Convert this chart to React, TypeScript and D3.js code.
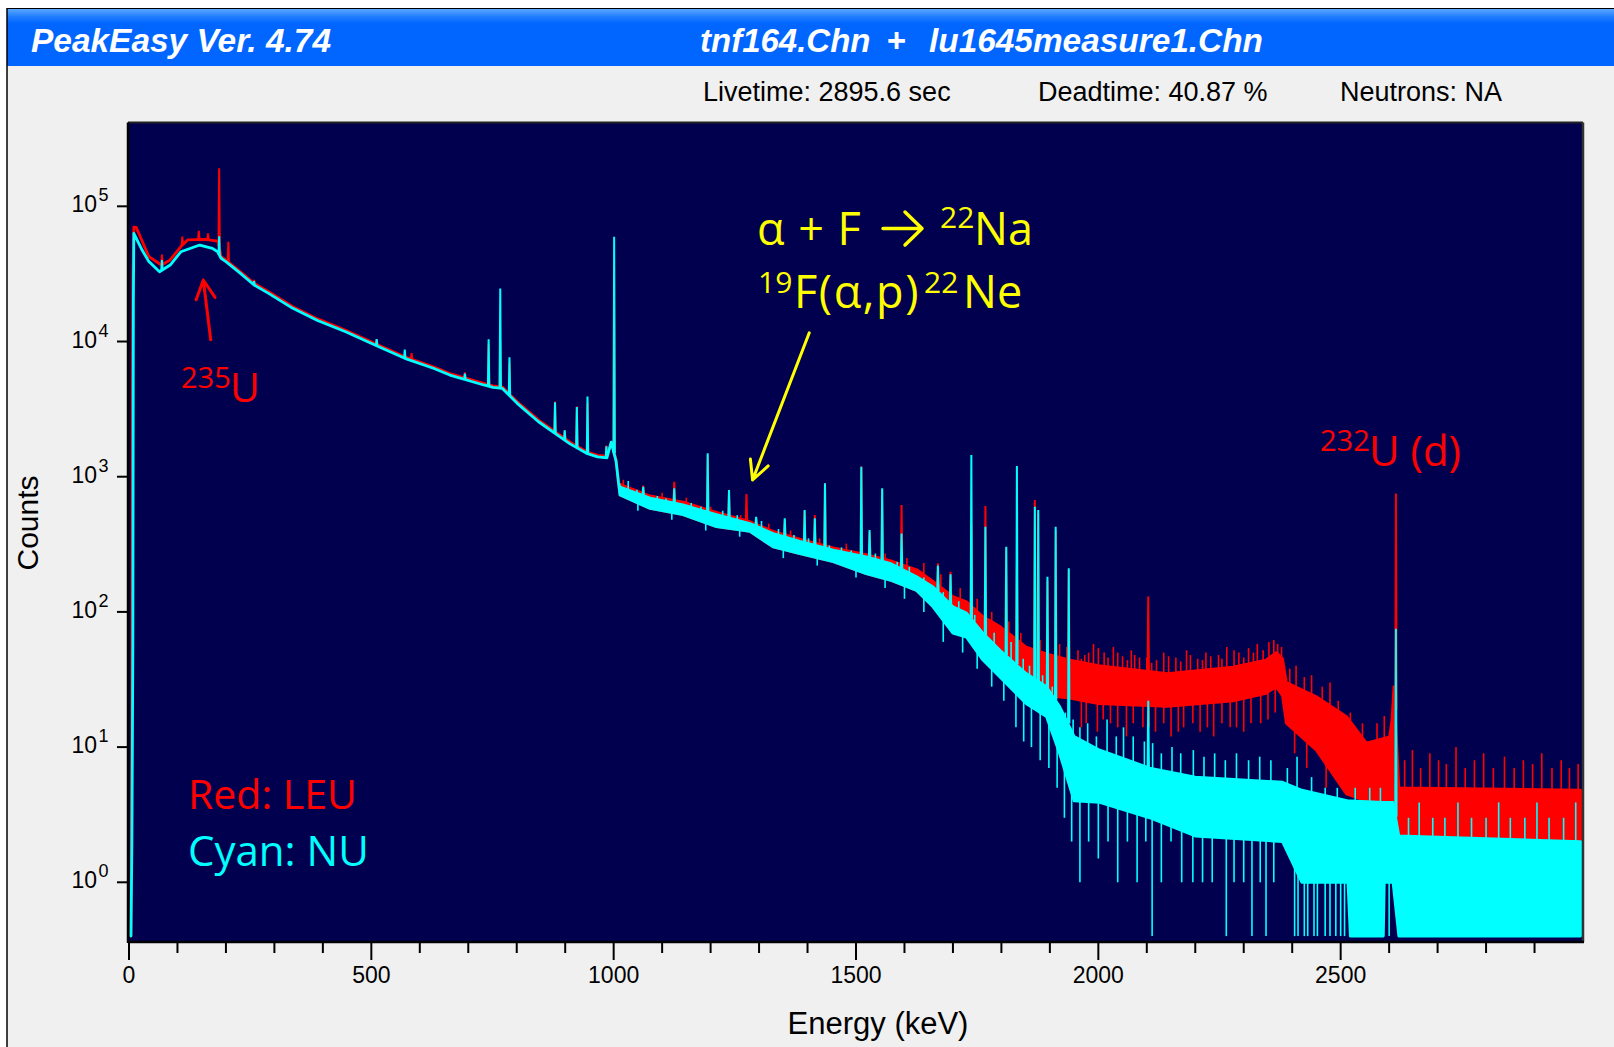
import * as d3 from "d3";

// spectrum rows: [energy keV, upper counts, lower counts (optional, band)]
type Row = [number, number, number?];

const RED_CONT: Row[] = [
  [4, 0.4], [5, 3], [6, 20], [7, 4200], [8, 30000], [10, 70000], [15, 69700],
  [41, 42400], [67, 36800], [85, 40100], [107, 50400], [121, 56400], [157, 57000],
  [179, 55600], [184, 55000], [190, 42400], [200, 40000], [230, 32800], [258, 27000],
  [288, 23400], [338, 18100], [389, 14700], [447, 12100], [512, 9500], [569, 7700],
  [628, 6500], [662, 5800], [732, 4900], [751, 4700], [770, 4620], [801, 3580],
  [845, 2620], [879, 2150], [910, 1800], [946, 1520], [967, 1440], [986, 1420],
  [995, 1800], [1005, 1330], [1010, 900],
  [1013, 880, 733], [1075, 720, 583], [1143, 650, 524], [1212, 545, 427],
  [1281, 465, 394], [1329, 395, 303], [1384, 345, 270], [1453, 298, 235],
  [1521, 265, 192], [1570, 240, 172], [1625, 205, 144], [1659, 168, 109],
  [1700, 130, 75], [1728, 119, 70], [1762, 92, 50], [1797, 78, 40], [1851, 55, 28],
  [1893, 49, 24], [1941, 44, 23], [2000, 40, 21], [2143, 35, 20], [2278, 39, 22],
  [2346, 44, 25], [2367, 50, 28], [2380, 45, 24], [2388, 30, 15], [2450, 23.6, 9.5],
  [2512, 16.8, 4.5], [2553, 10.7, 4], [2601, 11.9, 4], [2606, 16, 4], [2610, 28, 4],
  [2620, 5, 2], [2995, 4.8, 2],
];

const CYAN_CONT: Row[] = [
  [4, 0.4], [6, 2], [8, 60], [9, 20000], [10, 63000], [27, 47500], [41, 39000],
  [63, 32800], [85, 36800], [107, 46100], [146, 51700], [172, 48900], [183, 46100],
  [190, 41300], [200, 39000], [230, 31900], [258, 26200], [288, 22700], [338, 17600],
  [389, 14300], [447, 11800], [512, 9270], [569, 7510], [628, 6340], [662, 5650],
  [732, 4770], [751, 4580], [770, 4510], [801, 3490], [845, 2550], [879, 2095],
  [910, 1750], [946, 1480], [967, 1400], [986, 1380], [995, 1800], [1005, 1300],
  [1010, 900],
  [1013, 840, 733], [1075, 695, 583], [1143, 618, 524], [1212, 524, 427],
  [1281, 450, 394], [1329, 380, 303], [1384, 332, 270], [1453, 287, 235],
  [1521, 255, 192], [1570, 229, 172], [1625, 182, 144], [1659, 153, 109],
  [1700, 109, 69.5], [1728, 98, 65], [1762, 69.5, 44], [1797, 52, 33], [1851, 35, 21],
  [1893, 28, 16.8], [1920, 20, 9], [1950, 12, 4], [2003, 9.5, 3.9], [2106, 7, 3],
  [2200, 6, 2.2], [2380, 5.5, 2], [2420, 4.8, 1], [2515, 4, 1], [2520, 4, 0.4],
  [2588, 3.9, 0.4], [2590, 3.9, 1], [2608, 3.9, 1], [2620, 2.2, 0.4], [2995, 2, 0.4],
];

// photopeaks: energy, top in red (LEU), top in cyan (NU); 0 = no peak
const PEAK_E = [68, 110, 144, 163, 186, 205, 258, 511, 569, 583, 693, 742, 766, 785, 879, 899, 924, 946, 985, 1001, 1061, 1125, 1194, 1238, 1274, 1294, 1353, 1394, 1415, 1436, 1511, 1528, 1554, 1594, 1669, 1695, 1738, 1767, 1810, 1832, 1869, 1876, 1895, 1912, 1939, 2103, 2614];
const PEAK_RED = [44000, 59800, 66000, 63000, 191000, 54700, 28500, 10400, 0, 8200, 5900, 9500, 10000, 7000, 3600, 2200, 3300, 3500, 1700, 36800, 860, 919, 1450, 780, 745, 480, 480, 560, 520, 894, 1190, 390, 800, 618, 229, 198, 450, 606, 300, 222, 673, 540, 170, 400, 205, 130, 750];
const PEAK_CYAN = [40000, 0, 0, 0, 60000, 0, 28000, 10400, 8700, 0, 5800, 10400, 24700, 7640, 3550, 2200, 3280, 3920, 1680, 59600, 840, 820, 1490, 798, 0, 505, 492, 567, 492, 894, 1186, 403, 820, 380, 220, 190, 1446, 427, 303, 1200, 600, 567, 182, 427, 210, 22, 75];

// single-channel excursions above / below the continuum: [energy, counts]
const RED_SPIKES = [[1020, 950], [1040, 820], [1100, 760], [1150, 700], [1200, 600], [1262, 520], [1320, 450], [1365, 400], [1425, 350], [1480, 320], [1530, 300], [1560, 270], [1605, 250], [1640, 230], [1675, 190], [1715, 150], [1750, 125], [1780, 100], [1815, 85], [1840, 70], [1880, 62], [1920, 58], [1935, 55], [1958, 52], [1965, 45], [1972, 48], [1980, 50], [1990, 58], [2000, 54], [2012, 50], [2020, 46], [2031, 55], [2040, 50], [2050, 47], [2060, 44], [2068, 52], [2075, 48], [2085, 46], [2100, 46], [2110, 42], [2120, 44], [2135, 50], [2145, 47], [2160, 46], [2170, 43], [2182, 52], [2190, 48], [2205, 45], [2215, 44], [2222, 50], [2232, 47], [2248, 48], [2255, 45], [2265, 55], [2280, 52], [2290, 50], [2300, 46], [2310, 54], [2320, 50], [2328, 58], [2340, 52], [2352, 60], [2362, 62], [2370, 58], [2378, 55], [2395, 38], [2408, 40], [2425, 33], [2440, 34], [2462, 28], [2478, 30], [2495, 22], [2520, 18], [2545, 15], [2575, 15], [2590, 17], [2632, 8], [2648, 9.5], [2665, 7], [2684, 9], [2702, 8], [2718, 7.5], [2738, 10], [2757, 7], [2776, 8], [2795, 9], [2815, 7], [2838, 8.5], [2858, 7], [2877, 8], [2896, 7.5], [2915, 9], [2936, 7], [2955, 8], [2972, 7], [2990, 7.5]];
const RED_DROPS = [[1965, 14], [1975, 15], [1998, 13], [2010, 16], [2025, 15], [2040, 14], [2058, 12], [2072, 15], [2092, 14], [2105, 14], [2118, 13], [2135, 15], [2150, 12], [2165, 13], [2176, 14], [2195, 15], [2210, 13], [2225, 14], [2238, 12], [2255, 15], [2272, 14], [2285, 14], [2300, 13], [2315, 15], [2335, 15], [2350, 16], [2365, 18], [2405, 9], [2430, 7], [2470, 5], [2988, 1]];
const CYAN_SPIKES = [[1030, 930], [1048, 800], [1090, 720], [1108, 690], [1160, 640], [1180, 600], [1225, 560], [1255, 520], [1305, 470], [1340, 410], [1372, 370], [1402, 350], [1445, 310], [1470, 300], [1490, 285], [1540, 270], [1585, 235], [1610, 215], [1640, 180], [1680, 140], [1712, 120], [1745, 95], [1785, 70], [1820, 60], [1845, 45], [1858, 40], [1885, 34], [1905, 28], [1932, 18], [1948, 16], [1962, 14], [1978, 15], [1996, 12], [2018, 16], [2037, 12], [2052, 14], [2072, 12], [2095, 11], [2112, 10.7], [2130, 9], [2152, 10], [2170, 9], [2196, 9.5], [2218, 8.5], [2240, 9], [2262, 8], [2285, 9], [2310, 8], [2333, 8.5], [2356, 8], [2390, 7], [2410, 8.5], [2440, 6], [2468, 5], [2493, 5], [2530, 5], [2560, 5], [2582, 5], [2640, 3], [2662, 3.9], [2690, 3], [2715, 3], [2742, 3.9], [2770, 3], [2800, 3], [2826, 3.9], [2850, 3], [2880, 3], [2905, 3.9], [2930, 3], [2960, 3], [2985, 3.9]];
const CYAN_DROPS = [[1050, 560], [1120, 480], [1190, 400], [1260, 360], [1350, 250], [1420, 220], [1500, 180], [1560, 150], [1600, 125], [1640, 100], [1680, 60], [1720, 50], [1750, 38], [1780, 28], [1805, 22], [1830, 14], [1846, 11], [1862, 10], [1880, 8], [1898, 7], [1915, 5], [1930, 3], [1945, 2], [1962, 1], [1980, 2], [2000, 1.5], [2020, 2], [2040, 1], [2060, 2], [2080, 1], [2098, 2], [2111, 0.4], [2130, 1], [2150, 2], [2172, 1], [2195, 1], [2215, 1], [2235, 1], [2264, 0.4], [2280, 1], [2300, 1], [2317, 0.4], [2334, 1], [2346, 0.4], [2362, 1], [2405, 0.4], [2412, 0.4], [2425, 0.4], [2432, 0.4], [2445, 0.4], [2452, 0.4], [2468, 0.4], [2478, 0.4], [2490, 0.4], [2500, 0.4], [2508, 0.4], [2600, 0.4]];

const X_LABELS = [0, 500, 1000, 1500, 2000, 2500];
const Y_EXPONENTS = [0, 1, 2, 3, 4, 5];

// annotation arrows in data space: [energy, counts] tail -> tip
const U235_ARROW = [[168.6, 10300], [153.3, 28500]];
const NA22_ARROW = [[1403.6, 11600], [1286.6, 946]];

const UI = "'Liberation Sans', Arial, sans-serif";
const ANN = "'Open Sans', 'Noto Sans', sans-serif";
const NAVY = "#00004f";
const RED = "#ff0000";
const CYAN = "#00ffff";
const YELLOW = "#ffff00";

export default function App() {
  const W = 1614;
  const H = 1047;
  const plot = { left: 128, right: 1583, top: 122.5, bottom: 942 };

  const x = d3.scaleLinear().domain([0, 3000]).range([129, 1583]);
  const y = d3
    .scaleLog()
    .domain([Math.pow(10, -0.4416), Math.pow(10, 5.62)])
    .range([942, 122.5]);

  const band = d3
    .area<Row>()
    .x((d) => x(d[0]))
    .y0((d) => y(d[2] ?? d[1]))
    .y1((d) => y(d[1]));

  const seg = d3
    .line<number[]>()
    .x((d) => x(d[0]))
    .y((d) => y(d[1]));

  const upperOf = (rows: Row[]) =>
    d3.scaleLinear().domain(rows.map((r) => r[0])).range(rows.map((r) => r[1])).clamp(true);
  const lowerOf = (rows: Row[]) =>
    d3.scaleLinear().domain(rows.map((r) => r[0])).range(rows.map((r) => r[2] ?? r[1])).clamp(true);

  const series = [
    { rows: RED_CONT, peaks: PEAK_RED, spikes: RED_SPIKES, drops: RED_DROPS, color: RED },
    { rows: CYAN_CONT, peaks: PEAK_CYAN, spikes: CYAN_SPIKES, drops: CYAN_DROPS, color: CYAN },
  ];

  const arrow = (pts: number[][], color: string) => {
    const [x0, y0] = [x(pts[0][0]), y(pts[0][1])];
    const [x1, y1] = [x(pts[1][0]), y(pts[1][1])];
    const a = Math.atan2(y0 - y1, x0 - x1);
    const len = 21;
    const sp = (27 * Math.PI) / 180;
    const h1 = [x1 + len * Math.cos(a + sp), y1 + len * Math.sin(a + sp)];
    const h2 = [x1 + len * Math.cos(a - sp), y1 + len * Math.sin(a - sp)];
    return (
      <path
        d={`M${x0},${y0}L${x1},${y1}M${h1[0]},${h1[1]}L${x1},${y1}L${h2[0]},${h2[1]}`}
        stroke={color}
        strokeWidth={3}
        fill="none"
        strokeLinecap="round"
        strokeLinejoin="round"
      />
    );
  };

  const minorTicks = d3.range(100, 3000, 100).filter((v) => v % 500 !== 0);

  return (
    <svg
      width={W}
      height={H}
      style={{ position: "absolute", left: 0, top: 0, display: "block" }}
    >
      <defs>
        <linearGradient id="titleBar" x1="0" y1="0" x2="0" y2="1">
          <stop offset="0%" stopColor="#5aa8ff" />
          <stop offset="14%" stopColor="#1f7cff" />
          <stop offset="26%" stopColor="#0066ff" />
          <stop offset="100%" stopColor="#0066ff" />
        </linearGradient>
        <clipPath id="plotClip">
          <rect x={plot.left + 1} y={plot.top} width={plot.right - plot.left - 1} height={plot.bottom - plot.top - 1} />
        </clipPath>
      </defs>

      {/* window */}
      <rect x={0} y={0} width={W} height={H} fill="#ffffff" />
      <rect x={7} y={8} width={W - 7} height={H - 8} fill="#f0f0f0" />
      <rect x={7} y={9} width={W - 7} height={57} fill="url(#titleBar)" />
      <line x1={7} y1={8.5} x2={W} y2={8.5} stroke="#000" strokeWidth={1} />
      <line x1={7} y1={8} x2={7} y2={H} stroke="#000" strokeWidth={1.5} />

      <g fill="#fff" fontFamily={UI} fontWeight="bold" fontStyle="italic" fontSize={33}>
        <text x={31} y={52} textLength={300} lengthAdjust="spacingAndGlyphs">PeakEasy Ver. 4.74</text>
        <text x={700} y={52}>tnf164.Chn</text>
        <text x={896} y={52} textAnchor="middle">+</text>
        <text x={929} y={52} textLength={334} lengthAdjust="spacingAndGlyphs">lu1645measure1.Chn</text>
      </g>

      <g fontFamily={UI} fontSize={27} fill="#000">
        <text x={703} y={101}>Livetime: 2895.6 sec</text>
        <text x={1038} y={101}>Deadtime: 40.87 %</text>
        <text x={1340} y={101}>Neutrons: NA</text>
      </g>

      {/* plot area */}
      <rect x={plot.left} y={plot.top} width={plot.right - plot.left} height={plot.bottom - plot.top} fill={NAVY} />

      <g clipPath="url(#plotClip)">
        {series.map((s) => {
          const up = upperOf(s.rows);
          const lo = lowerOf(s.rows);
          return (
            <g key={s.color}>
              <path d={band(s.rows) ?? ""} fill={s.color} stroke={s.color} strokeWidth={2.8} strokeLinejoin="round" />
              {PEAK_E.map((e, i) => {
                const top = s.peaks[i];
                const base = up(e);
                if (!top || top <= base) return null;
                return (
                  <path
                    key={`p${i}`}
                    d={seg([[e - 1.4, base], [e, top], [e + 1.4, base]]) ?? ""}
                    stroke={s.color}
                    strokeWidth={2}
                    fill="none"
                  />
                );
              })}
              {s.spikes.map(([e, v], i) => (
                <path key={`s${i}`} d={seg([[e, up(e)], [e, v]]) ?? ""} stroke={s.color} strokeWidth={1.6} />
              ))}
              {s.drops.map(([e, v], i) => (
                <path key={`d${i}`} d={seg([[e, lo(e)], [e, v]]) ?? ""} stroke={s.color} strokeWidth={1.6} />
              ))}
            </g>
          );
        })}
      </g>

      {/* frame */}
      <line x1={plot.left} y1={plot.top} x2={plot.right} y2={plot.top} stroke="#222" strokeWidth={2} />
      <line x1={plot.right} y1={plot.top} x2={plot.right} y2={plot.bottom} stroke="#333" strokeWidth={2.5} />
      <line x1={plot.left} y1={plot.top} x2={plot.left} y2={plot.bottom + 1} stroke="#000" strokeWidth={2.5} />
      <line x1={plot.left} y1={plot.bottom} x2={plot.right + 1} y2={plot.bottom} stroke="#000" strokeWidth={2.5} />

      {/* y axis */}
      {Y_EXPONENTS.map((k) => {
        const ty = y(Math.pow(10, k));
        return (
          <g key={`y${k}`} fontFamily={UI} fill="#000">
            <line x1={117} y1={ty} x2={plot.left} y2={ty} stroke="#000" strokeWidth={2} />
            <text x={97} y={ty + 6} fontSize={23} textAnchor="end">10</text>
            <text x={98.5} y={ty - 5} fontSize={18}>{k}</text>
          </g>
        );
      })}

      {/* x axis */}
      {minorTicks.map((v) => (
        <line key={`m${v}`} x1={x(v)} y1={plot.bottom} x2={x(v)} y2={953} stroke="#000" strokeWidth={2} />
      ))}
      {X_LABELS.map((v) => (
        <g key={`x${v}`}>
          <line x1={x(v)} y1={plot.bottom} x2={x(v)} y2={960} stroke="#000" strokeWidth={2} />
          <text x={x(v)} y={983} fontFamily={UI} fontSize={23} textAnchor="middle" fill="#000">
            {v}
          </text>
        </g>
      ))}

      <text x={878} y={1034} fontFamily={UI} fontSize={31} textAnchor="middle" fill="#000">
        Energy (keV)
      </text>
      <text transform="translate(37.5,523) rotate(-90)" fontFamily={UI} fontSize={30} textAnchor="middle" fill="#000">
        Counts
      </text>

      {/* annotations */}
      {arrow(U235_ARROW, RED)}
      {arrow(NA22_ARROW, YELLOW)}

      <g fontFamily={ANN}>
        <text x={181} y={388} fill={RED} fontSize={29}>235</text>
        <text x={230} y={401.7} fill={RED} fontSize={41}>U</text>

        <text x={1320} y={451} fill={RED} fontSize={29}>232</text>
        <text x={1369} y={466} fill={RED} fontSize={42}>U (d)</text>

        <text x={188} y={809} fill={RED} fontSize={41}>Red: LEU</text>
        <text x={188} y={866} fill={CYAN} fontSize={42}>Cyan: NU</text>

        <text x={757} y={245} fill={YELLOW} fontSize={45} letterSpacing={1}>α + F</text>
        <path d="M883,228.5L921,228.5M905,212L922,228.5L905,245" stroke={YELLOW} strokeWidth={3.5} fill="none" strokeLinecap="round" strokeLinejoin="round" />
        <text x={940} y={228} fill={YELLOW} fontSize={30}>22</text>
        <text x={974} y={245} fill={YELLOW} fontSize={45}>Na</text>

        <text x={758} y={293} fill={YELLOW} fontSize={30}>19</text>
        <text x={794} y={308} fill={YELLOW} fontSize={45} letterSpacing={1.6}>F(α,p)</text>
        <text x={924} y={293} fill={YELLOW} fontSize={30}>22</text>
        <text x={963} y={308} fill={YELLOW} fontSize={45}>Ne</text>
      </g>
    </svg>
  );
}
